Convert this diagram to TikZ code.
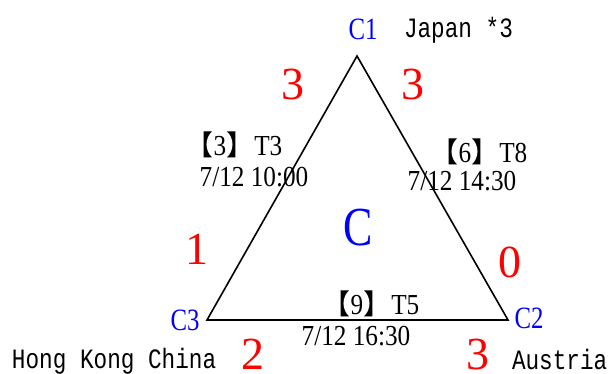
\documentclass[tikz,border=0pt]{standalone}
\usepackage{fontspec}
\newfontfamily\serf[FakeStretch=0.87]{Liberation Serif}
\newfontfamily\blu[FakeStretch=0.8]{Liberation Serif}
\newfontfamily\redf{Liberation Serif}
\newfontfamily\monof[FakeStretch=0.81]{Liberation Mono}
\newfontfamily\cjkf{Noto Sans CJK SC}
\newcommand{\lbk}{{\cjkf\fontsize{28}{28}\selectfont【}}
\newcommand{\rbk}{{\cjkf\fontsize{28}{28}\selectfont】}}
\begin{document}
\begin{tikzpicture}[x=1pt,y=-1pt,
  every node/.style={inner sep=0pt,outer sep=0pt,anchor=base},
  vlabel/.style={text=blue,font=\blu\fontsize{31}{31}\selectfont},
  score/.style={text=red,font=\redf\fontsize{46}{46}\selectfont},
  info/.style={text=black,font=\serf\fontsize{29}{29}\selectfont},
  team/.style={text=black,font=\monof\fontsize{28}{28}\selectfont},
  edge/.style={draw=black,line width=1.6pt}]
\useasboundingbox (0,0) rectangle (608,374);
\coordinate (A) at (357,56);
\coordinate (B) at (508,320);
\coordinate (L) at (207,320);
\draw[edge] (L) -- (A) -- (B) -- cycle;
\node[vlabel] (c1) at (363,40) {C1};
\node[vlabel] (c2) at (529,328) {C2};
\node[vlabel] (c3) at (185,330) {C3};
\node[text=blue,font=\blu\fontsize{55}{55}\selectfont] (cc) at (358,246) {C};
\node[team,anchor=base west] (jp) at (404,38) {Japan *3};
\node[team,anchor=base west] (hk) at (12,368) {Hong Kong China};
\node[team,anchor=base west] (at) at (512,369) {Austria};
\node[score] (s1) at (293,100) {3};
\node[score] (s2) at (413,100) {3};
\node[score] (s3) at (197,265) {1};
\node[score] (s4) at (510,278) {0};
\node[score] (s5) at (253,369) {2};
\node[score] (s6) at (478,369) {3};
\node[info] (m1) at (234,156) {\lbk 3\rbk T3};
\node[info] (d1) at (254,187) {7/12 10:00};
\node[info] (m2) at (479,163) {\lbk 6\rbk T8};
\node[info] (d2) at (462,191) {7/12 14:30};
\node[info] (m3) at (371,314) {\lbk 9\rbk T5};
\node[info] (d3) at (356,345) {7/12 16:30};
\end{tikzpicture}
\end{document}
